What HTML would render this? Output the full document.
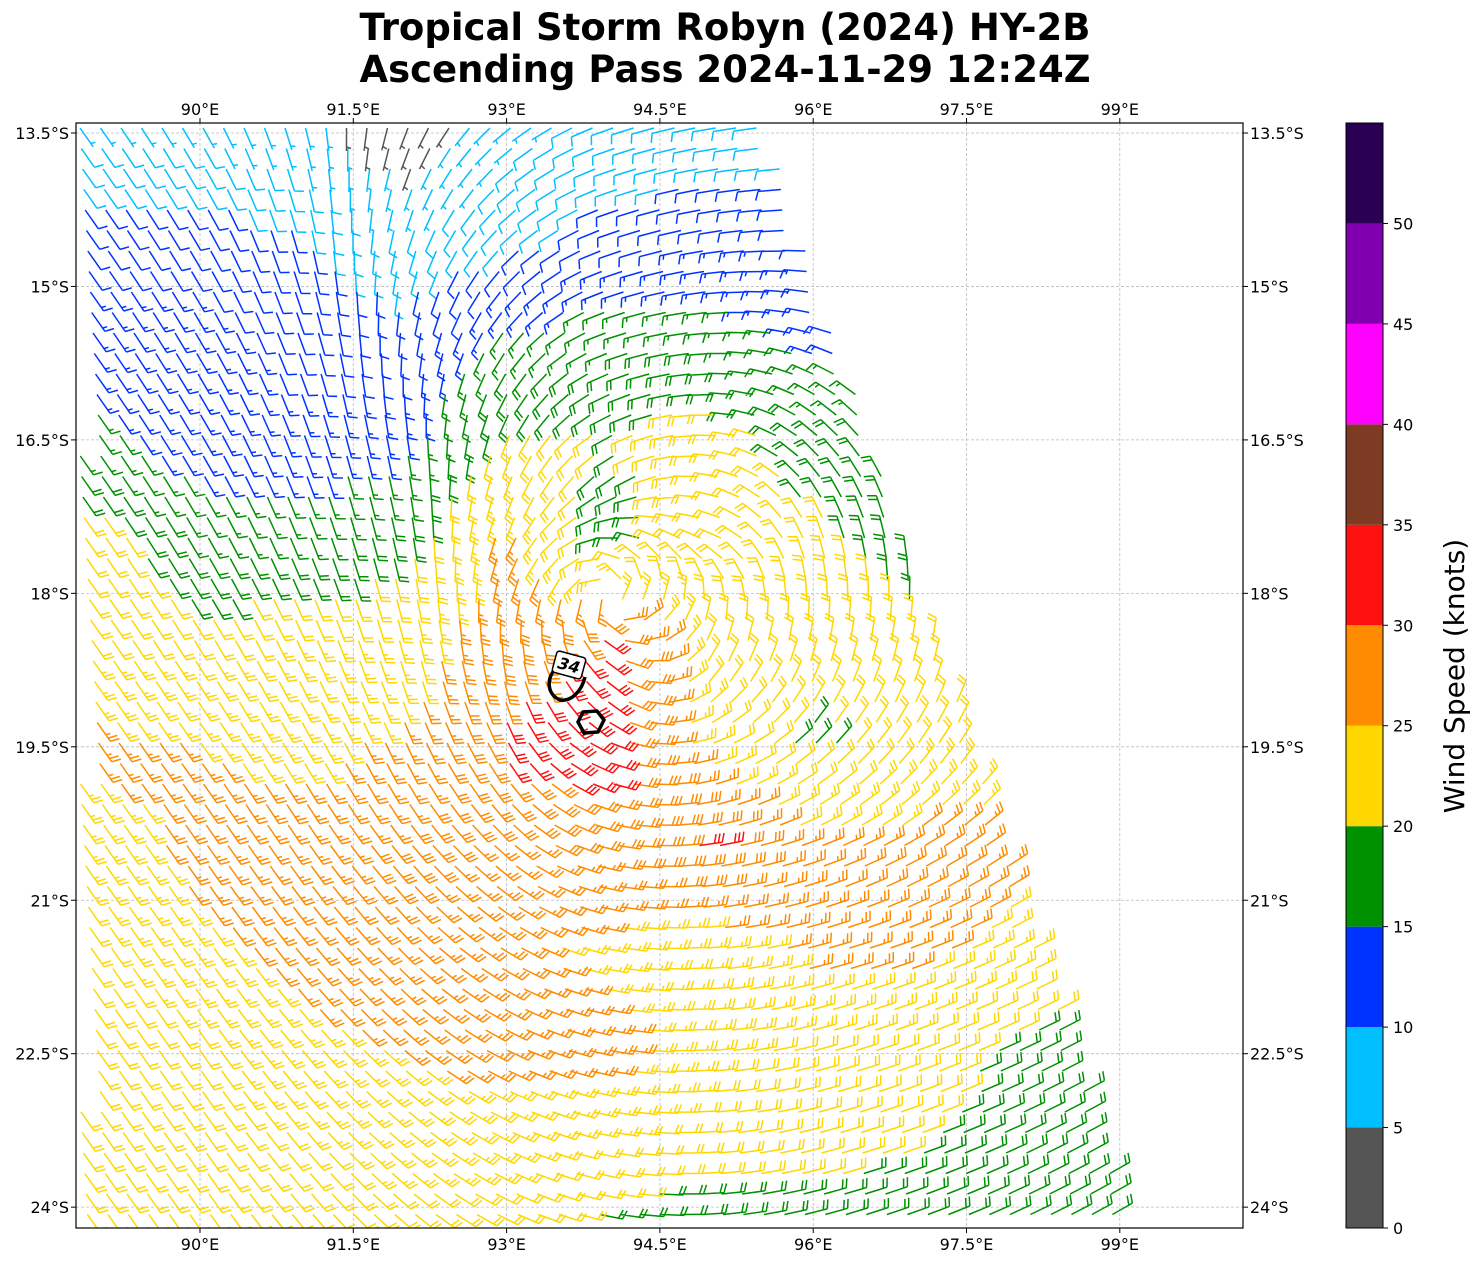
<!DOCTYPE html>
<html><head><meta charset="utf-8"><style>
body{margin:0;background:#fff;}
svg text{font-family:"DejaVu Sans","Liberation Sans",sans-serif;}
</style></head><body>
<svg id="chart" width="1482" height="1264" xmlns="http://www.w3.org/2000/svg">
<defs><clipPath id="plotclip"><rect x="76" y="123" width="1167" height="1105"/></clipPath></defs>
<text x="725" y="40" text-anchor="middle" font-size="37" font-weight="bold">Tropical Storm Robyn (2024) HY-2B</text>
<text x="725" y="82" text-anchor="middle" font-size="37" font-weight="bold">Ascending Pass 2024-11-29 12:24Z</text>
<g id="grid"></g>
<g id="barbs" clip-path="url(#plotclip)"></g>
<g fill="none" stroke="#000" stroke-width="3.5">
<path d="M556,668 C545,680 548,695 560,700 C572,702 582,690 585,677"/>
<path d="M583,712 L597,711 L604,720 L598,732 L584,733 L578,722 Z"/>
</g>
<g transform="translate(569,665) rotate(15)">
<rect x="-15" y="-11" width="30" height="22" rx="3" fill="#fff" stroke="#000" stroke-width="1.5"/>
<text x="0" y="6" text-anchor="middle" font-size="16" font-weight="bold" font-style="italic">34</text>
</g>
<rect x="76" y="123" width="1167" height="1105" fill="none" stroke="#000" stroke-width="1.2"/>
<g id="axes"></g>
<g id="cbar"></g>
<text transform="translate(1464,676) rotate(-90)" text-anchor="middle" font-size="28">Wind Speed (knots)</text>
</svg>
<script>
const lonTicks=[90,91.5,93,94.5,96,97.5,99];
const latTicks=[13.5,15,16.5,18,19.5,21,22.5,24];
const cbTicks=[0,5,10,15,20,25,30,35,40,45,50];
const cbColors=["#555555","#00bfff","#0033ff","#009100","#ffd700","#ff8c00","#ff1010","#7f3a23","#ff00ff","#8000b0","#2a0055"];
const gridLons=[89,90,91,92,93,94,95,96,97,98,99];
const gridLats=[13.5,14.5,15.5,16.5,17.5,18.5,19.5,20.5,21.5,22.5,23.5,24.2];
const speedRow0=[7,7,6,3,7,8,8,8,8,8,8];
const speedRow1=[12,12,10,8,9,11,12,12,12,12,12];
const speedRow2=[13,13,12,11,16,17,17,14,14,14,14];
const speedRow3=[16,13,13,14,21,20,22,18,18,18,18];
const speedRow4=[22,17,17,19,26,18,22,21,17,17,17];
const speedRow5=[22,22,23,23,28,31,22,22,22,22,22];
const speedRow6=[26,25,24,26,31,32,23,19,22,22,22];
const speedRow7=[23,26,27,28,27,28,31,26,26,26,26];
const speedRow8=[22,24,26,27,26,24,23,26,26,24,24];
const speedRow9=[22,22,24,25,26,26,23,22,22,19,18];
const speedRow10=[22,22,22,23,23,22,21,21,20,18,18];
const speedRow11=[22,22,22,22,22,19,18,18,18,18,18];
const speeds=[speedRow0,speedRow1,speedRow2,speedRow3,speedRow4,speedRow5,speedRow6,speedRow7,speedRow8,speedRow9,speedRow10,speedRow11];
// direction wind comes FROM (degrees, 0=N, 90=E)
const dirRow0=[145,150,165,200,230,250,260,265,270,270,270];
const dirRow1=[145,150,165,195,225,250,260,270,280,280,280];
const dirRow2=[145,150,160,185,215,250,265,285,300,300,300];
const dirRow3=[145,150,160,170,200,240,270,310,330,330,330];
const dirRow4=[145,150,158,168,200,215,290,340,350,350,350];
const dirRow5=[145,148,155,165,175,160,20,10,10,10,10];
const dirRow6=[145,145,150,155,150,110,70,45,35,30,30];
const dirRow7=[145,145,145,140,130,100,80,70,60,55,50];
const dirRow8=[145,145,140,135,120,100,85,75,70,65,60];
const dirRow9=[145,145,140,130,115,100,85,75,70,65,60];
const dirRow10=[145,145,140,130,115,100,85,75,70,65,60];
const dirRow11=[145,145,140,130,115,100,85,75,70,65,60];
const dirs=[dirRow0,dirRow1,dirRow2,dirRow3,dirRow4,dirRow5,dirRow6,dirRow7,dirRow8,dirRow9,dirRow10,dirRow11];
const stormCenter=[94.0,18.05];

const NS="http://www.w3.org/2000/svg";
const X0=200,PX=102.2,Y0=133,PY=102.3;
const xs=lon=>X0+(lon-90)*PX, ys=lat=>Y0+(lat-13.5)*PY;
const ilon=x=>90+(x-X0)/PX, ilat=y=>13.5+(y-Y0)/PY;
function mk(tag,attrs,parent){const e=document.createElementNS(NS,tag);for(const k in attrs)e.setAttribute(k,attrs[k]);parent.appendChild(e);return e;}
const grid=document.getElementById('grid'),axes=document.getElementById('axes');
lonTicks.forEach(l=>{const x=xs(l);
 const g=mk('line',{x1:x,x2:x,y1:123,y2:1228,stroke:'#bbb','stroke-width':0.8,'stroke-dasharray':'3,2'},grid);
 
 [0,1].forEach(i=>{mk('line',{x1:x,x2:x,y1:i?1228:118,y2:i?1233:123,stroke:'#000'},axes);
  const t=mk('text',{x:x,y:i?1250:115,'text-anchor':'middle','font-size':16},axes);t.textContent=l+'°E';
  });
});
latTicks.forEach(l=>{const y=ys(l);
 const g=mk('line',{x1:76,x2:1243,y1:y,y2:y,stroke:'#bbb','stroke-width':0.8,'stroke-dasharray':'3,2'},grid);
 
 mk('line',{x1:71,x2:76,y1:y,y2:y,stroke:'#000'},axes);mk('line',{x1:1243,x2:1248,y1:y,y2:y,stroke:'#000'},axes);
 const t1=mk('text',{x:69,y:y+6,'text-anchor':'end','font-size':16},axes);t1.textContent=l+'°S';
 
 const t2=mk('text',{x:1250,y:y+6,'font-size':16},axes);t2.textContent=l+'°S';
 
});
const cb=document.getElementById('cbar');const CT=123,CB=1228,CX=1346,CW=37;
const cy=v=>CB-(v/55)*(CB-CT);
cbColors.forEach((c,i)=>{const r=mk('rect',{x:CX,y:cy((i+1)*5),width:CW,height:cy(i*5)-cy((i+1)*5),fill:c},cb);
 });
mk('rect',{x:CX,y:CT,width:CW,height:CB-CT,fill:'none',stroke:'#000'},cb);
cbTicks.forEach(v=>{const y=cy(v);mk('line',{x1:CX+CW,x2:CX+CW+5,y1:y,y2:y,stroke:'#000'},cb);
 const t=mk('text',{x:CX+CW+10,y:y+6,'font-size':16},cb);t.textContent=v;
 });
function cell(lon,lat){
 let fi=(lon-gridLons[0]);fi=Math.max(0,Math.min(gridLons.length-1.001,fi));
 let j=0;while(j<gridLats.length-2&&lat>gridLats[j+1])j++;
 let fj=(lat-gridLats[j])/(gridLats[j+1]-gridLats[j]);fj=Math.max(0,Math.min(1,fj));
 const i=Math.floor(fi);return {i,j,a:fi-i,b:fj};}
function bil(arr,c,f){const {i,j,a,b}=c;
 return (f(arr[j][i])*(1-a)+f(arr[j][i+1])*a)*(1-b)+(f(arr[j+1][i])*(1-a)+f(arr[j+1][i+1])*a)*b;}
const bg=document.getElementById('barbs');
const cxp=xs(stormCenter[0]),cyp=ys(stormCenter[1]);
let d={};
for(let y=128;y<1226;y+=20.5){for(let x=80;x<1240;x+=20.5){
 const xx=x+(((y-128)/20.5)*1.3)%20.5;
 if(xx>770+(y-133)*0.33)continue;
 const c=cell(ilon(xx),ilat(y));
 const s=bil(speeds,c,v=>v);
 const b=Math.min(10,Math.floor(s/5));const col=cbColors[b];
 let ux=bil(dirs,c,v=>Math.sin(v*Math.PI/180)), uy=bil(dirs,c,v=>-Math.cos(v*Math.PI/180));
 const dx=xx-cxp,dy=y-cyp;const r=Math.hypot(dx,dy)||1;
 const w=Math.max(0,1-r/125);
 const vx=-(-dy/r*0.94-dx/r*0.3), vy=-(dx/r*0.94-dy/r*0.3);
 ux=ux*(1-w)+vx*w*1.5; uy=uy*(1-w)+vy*w*1.5;
 const n=Math.hypot(ux,uy)||1;ux/=n;uy/=n;
 const px=uy,py=-ux;
 const L=23,tx=xx+ux*L,ty=y+uy*L;
 let p=`M${xx.toFixed(1)},${y.toFixed(1)}L${tx.toFixed(1)},${ty.toFixed(1)}`;
 const r5=Math.round(s/5)*5;let n10=Math.floor(r5/10),half=r5%10?1:0;let k=0;
 for(let f=0;f<n10;f++,k++){const bx=tx-ux*k*4,by=ty-uy*k*4;p+=`M${bx.toFixed(1)},${by.toFixed(1)}l${(px*9+ux*3).toFixed(1)},${(py*9+uy*3).toFixed(1)}`;}
 if(half){if(k===0)k=1;const bx=tx-ux*k*4,by=ty-uy*k*4;p+=`M${bx.toFixed(1)},${by.toFixed(1)}l${(px*4.5+ux*1.5).toFixed(1)},${(py*4.5+uy*1.5).toFixed(1)}`;}
 (d[col]=d[col]||[]).push(p);
}}
for(const c in d){const e=mk('path',{d:d[c].join(''),stroke:c,'stroke-width':1.5,fill:'none'},bg);
 
 }
</script>
</body></html>
